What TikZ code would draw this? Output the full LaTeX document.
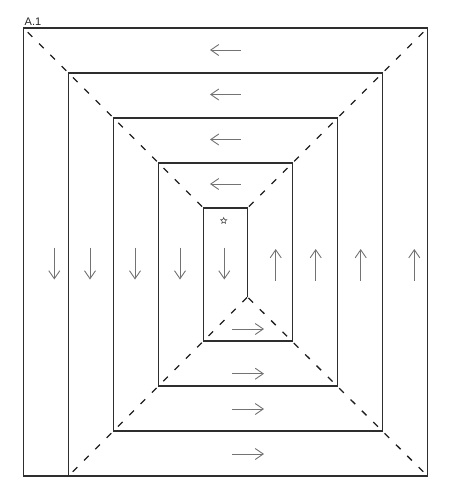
\documentclass[tikz,border=0pt]{standalone}
\usepackage{fontspec}
\setmainfont{Liberation Sans}
\usetikzlibrary{arrows.meta,shapes.geometric}
\tikzset{
  frameline/.style={line width=1.3pt, draw=black!82, line join=miter, line cap=butt},
  diag/.style={line width=1.3pt, draw=black!88, dash pattern=on 6.5pt off 9.5pt, dash phase=10pt},
  arr/.style={line width=0.9pt, draw=black!55, -{Straight Barb[length=8pt,width=11pt,line width=0.9pt]}},
  lbl/.style={font=\fontsize{11}{13}\selectfont, text=black!85, inner sep=0pt, anchor=base west},
  starmark/.style={star, star points=5, star point ratio=2.2, draw=black!75, line width=0.5pt, minimum size=6.5pt, inner sep=0pt}
}
\begin{document}
\begin{tikzpicture}[x=1pt,y=-1pt]
\useasboundingbox (0,0) rectangle (450,493);
% corner coordinates
\coordinate (o1) at (23.5,28);
\coordinate (o2) at (427.5,28);
\coordinate (o3) at (427.5,476);
\coordinate (o4) at (23.5,476);
\coordinate (s0) at (68.5,476);
\coordinate (s1) at (68.5,73);
\coordinate (s2) at (382.5,73);
\coordinate (s3) at (382.5,431);
\coordinate (s4) at (113.5,431);
\coordinate (s5) at (113.5,118);
\coordinate (s6) at (337.5,118);
\coordinate (s7) at (337.5,386);
\coordinate (s8) at (158.5,386);
\coordinate (s9) at (158.5,163);
\coordinate (s10) at (292.5,163);
\coordinate (s11) at (292.5,341);
\coordinate (s12) at (203.5,341);
\coordinate (s13) at (203.5,208);
\coordinate (s14) at (247.5,208);
\coordinate (s15) at (247.5,297);
% label
\node[lbl] (title) at (24.5,25) {A.1};
% dashed diagonals
\draw[diag] (o1) -- (s13);
\draw[diag] (o2) -- (s14);
\draw[diag] (o3) -- (s15);
\draw[diag] (s0) -- (s15);
% frame and spiral
\draw[frameline] (o1) -- (o2) -- (o3) -- (o4) -- cycle;
\draw[frameline] (s0) -- (s1) -- (s2) -- (s3) -- (s4) -- (s5) -- (s6) -- (s7) -- (s8) -- (s9) -- (s10) -- (s11) -- (s12) -- (s13) -- (s14) -- (s15);
% arrows
\foreach \i/\yy in {1/50,2/94.5,3/139.5,4/184}{
  \coordinate (la\i) at (240.7,\yy);
  \coordinate (lb\i) at (210,\yy);
  \draw[arr] (la\i) -- (lb\i);
}
\foreach \i/\xx in {1/54.3,2/90,3/135,4/180,5/224.3}{
  \coordinate (da\i) at (\xx,247.5);
  \coordinate (db\i) at (\xx,279.5);
  \draw[arr] (da\i) -- (db\i);
}
\foreach \i/\xx in {1/275.7,2/315.7,3/360.7,4/414.3}{
  \coordinate (ua\i) at (\xx,281);
  \coordinate (ub\i) at (\xx,249);
  \draw[arr] (ua\i) -- (ub\i);
}
\foreach \i/\yy in {1/329,2/373.7,3/409,4/454}{
  \coordinate (ra\i) at (232,\yy);
  \coordinate (rb\i) at (264,\yy);
  \draw[arr] (ra\i) -- (rb\i);
}
% star
\node[starmark] (st) at (223.7,220.7) {};
\end{tikzpicture}
\end{document}
